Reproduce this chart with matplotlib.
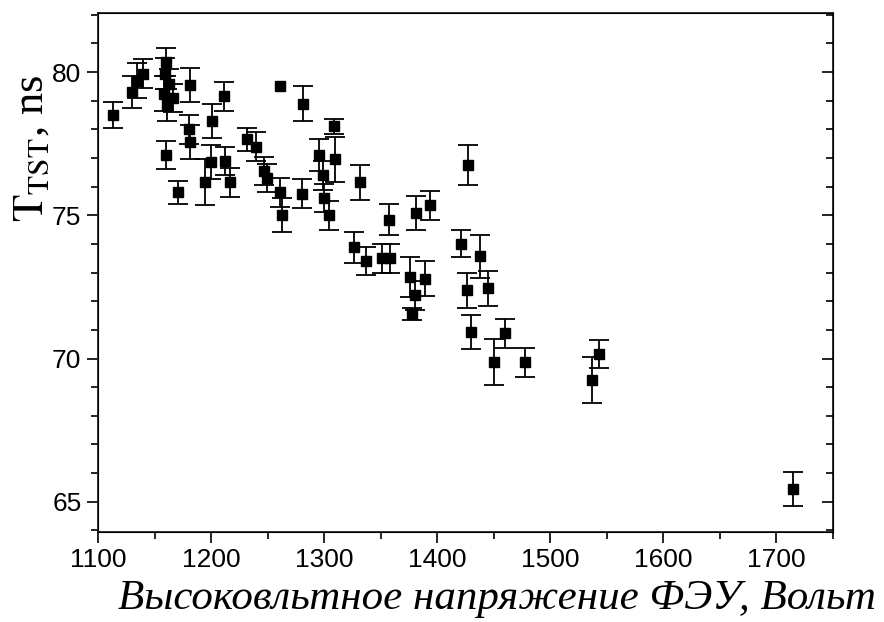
import matplotlib
matplotlib.use("Agg")
import matplotlib.pyplot as plt
from matplotlib.ticker import MultipleLocator

# PMT high voltage (V), T_TST (ns), error (ns); 0 = no visible error bar
voltage = [1113, 1130, 1134, 1140, 1160, 1159, 1163, 1158, 1166, 1161,
           1181, 1211, 1201, 1180, 1181, 1160, 1171, 1195, 1200, 1212,
           1217, 1232, 1240, 1247, 1249, 1261, 1263, 1261, 1281, 1280,
           1309, 1310, 1295, 1299, 1300, 1304, 1332, 1357, 1326, 1337,
           1351, 1358, 1381, 1394, 1427, 1421, 1438, 1376, 1389, 1380,
           1378, 1426, 1445, 1430, 1460, 1450, 1478, 1543, 1537, 1715]
t_tst = [78.5, 79.3, 79.7, 79.95, 80.35, 79.95, 79.6, 79.25, 79.1, 78.85,
         79.55, 79.15, 78.3, 78.0, 77.55, 77.1, 75.8, 76.15, 76.85, 76.9,
         76.15, 77.65, 77.4, 76.55, 76.3, 75.8, 75.0, 79.5, 78.9, 75.75,
         78.1, 76.95, 77.1, 76.4, 75.6, 75.0, 76.15, 74.85, 73.88, 73.4,
         73.5, 73.5, 75.07, 75.35, 76.75, 74.0, 73.57, 72.84, 72.79, 72.2,
         71.56, 72.38, 72.45, 70.93, 70.88, 69.87, 69.87, 70.16, 69.25, 65.45]
t_err = [0.45, 0.55, 0.6, 0.5, 0.5, 0.55, 0.5, 0.6, 0.5, 0.55,
         0.6, 0.5, 0.6, 0.5, 0.6, 0.5, 0.4, 0.8, 0.6, 0.5,
         0.5, 0.4, 0.5, 0.5, 0.5, 0.5, 0.6, 0.0, 0.6, 0.5,
         0.27, 0.8, 0.55, 0.5, 0.5, 0.5, 0.6, 0.55, 0.55, 0.5,
         0.5, 0.5, 0.6, 0.5, 0.7, 0.47, 0.75, 0.7, 0.6, 0.5,
         0.2, 0.6, 0.6, 0.6, 0.5, 0.8, 0.5, 0.5, 0.8, 0.6]

plt.rcParams["mathtext.fontset"] = "stix"

fig = plt.figure(figsize=(8.84, 6.22), dpi=100)
ax = fig.add_axes([0.111, 0.145, 0.831, 0.834])

with_err = [i for i, e in enumerate(t_err) if e > 0]
ax.errorbar([voltage[i] for i in with_err], [t_tst[i] for i in with_err],
            yerr=[t_err[i] for i in with_err], fmt="none", ecolor="black",
            elinewidth=1.3, capsize=7, capthick=1.3)
ax.plot(voltage, t_tst, "s", color="black", ms=7)

ax.set_xlim(1100, 1750)
ax.set_ylim(63.95, 82.06)
ax.xaxis.set_major_locator(MultipleLocator(100))
ax.xaxis.set_minor_locator(MultipleLocator(50))
ax.yaxis.set_major_locator(MultipleLocator(5))
ax.yaxis.set_minor_locator(MultipleLocator(1))
ax.tick_params(which="both", direction="out", width=1.2, labelsize=19,
               top=False, right=False, pad=4)
ax.tick_params(which="major", length=8)
ax.tick_params(which="minor", length=5)
for lbl in ax.get_xticklabels() + ax.get_yticklabels():
    lbl.set_family("Liberation Sans")
for sp in ax.spines.values():
    sp.set_linewidth(1.3)
    sp.set_color("#222222")

# right side ticks point inward
rax = ax.twinx()
rax.set_ylim(ax.get_ylim())
rax.yaxis.set_major_locator(MultipleLocator(5))
rax.yaxis.set_minor_locator(MultipleLocator(1))
rax.tick_params(which="both", direction="in", width=1.2, labelright=False)
rax.tick_params(which="major", length=8)
rax.tick_params(which="minor", length=5)

fig.text(0.562, 0.037, "Высоковльтное напряжение ФЭУ, Вольт",
         ha="center", va="center", fontsize=31, style="italic",
         family="Liberation Serif")
fig.text(0.036, 0.762, r"$\mathrm{T_{TST}}$, ns", rotation=90,
         ha="center", va="center", fontsize=32, family="Liberation Serif")

fig.savefig("out.png", dpi=100)
